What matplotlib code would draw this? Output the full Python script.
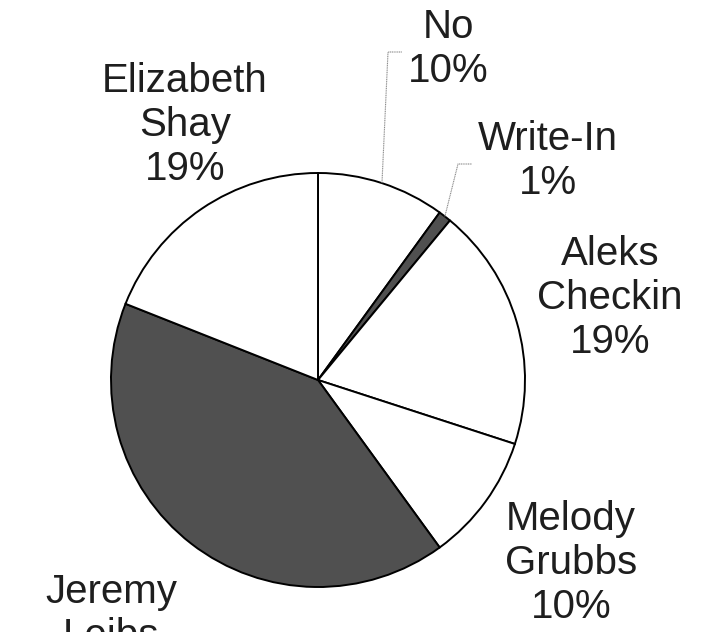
import numpy as np
import matplotlib.pyplot as plt

plt.rcParams['font.family'] = ['Liberation Sans', 'DejaVu Sans']

# slices, clockwise from 12 o'clock
names = ['No', 'Write-In', 'Aleks\nCheckin', 'Melody\nGrubbs', 'Jeremy\nLeibs', 'Elizabeth\nShay']
shares = [10, 1, 19, 10, 41, 19]
colors = ['white', '#505050', 'white', 'white', '#505050', 'white']

W, H = 710, 632
fig = plt.figure(figsize=(W / 100, H / 100), dpi=100)
ax = fig.add_axes([0, 0, 1, 1])
ax.set_xlim(0, W)
ax.set_ylim(0, H)
ax.set_aspect('equal')
ax.axis('off')

cx, cy, r = 318, H - 380, 207
wedges, _ = ax.pie(shares, colors=colors, startangle=90, counterclock=False,
                   center=(cx, cy), radius=r, frame=True,
                   wedgeprops=dict(edgecolor='black', linewidth=1.4))
ax.set_xlim(0, W)
ax.set_ylim(0, H)
ax.axis('off')

# label block centres (pixel coords, y from top)
label_pos = [(448, 49), (548, 161), (610, 298), (571, 563), (111, 636), (185, 125)]
for name, s, (lx, ly) in zip(names, shares, label_pos):
    ax.text(lx, H - ly, '{}\n{}%'.format(name, s), ha='center', va='center',
            fontsize=29, color='#1e1e1e', linespacing=1.2)

# leader lines for the two thin slices at the top
elbows = {0: [(388, 52), (402, 52)], 1: [(458, 164), (472, 164)]}
for i, pts in elbows.items():
    w = wedges[i]
    mid = np.deg2rad((w.theta1 + w.theta2) / 2)
    x0, y0 = cx + r * np.cos(mid), cy + r * np.sin(mid)
    xs = [x0] + [p[0] for p in pts]
    ys = [y0] + [H - p[1] for p in pts]
    ax.plot(xs, ys, color='#8a8a8a', linewidth=0.8, linestyle=(0, (1, 0.6)))

fig.savefig('out.png', dpi=100)
